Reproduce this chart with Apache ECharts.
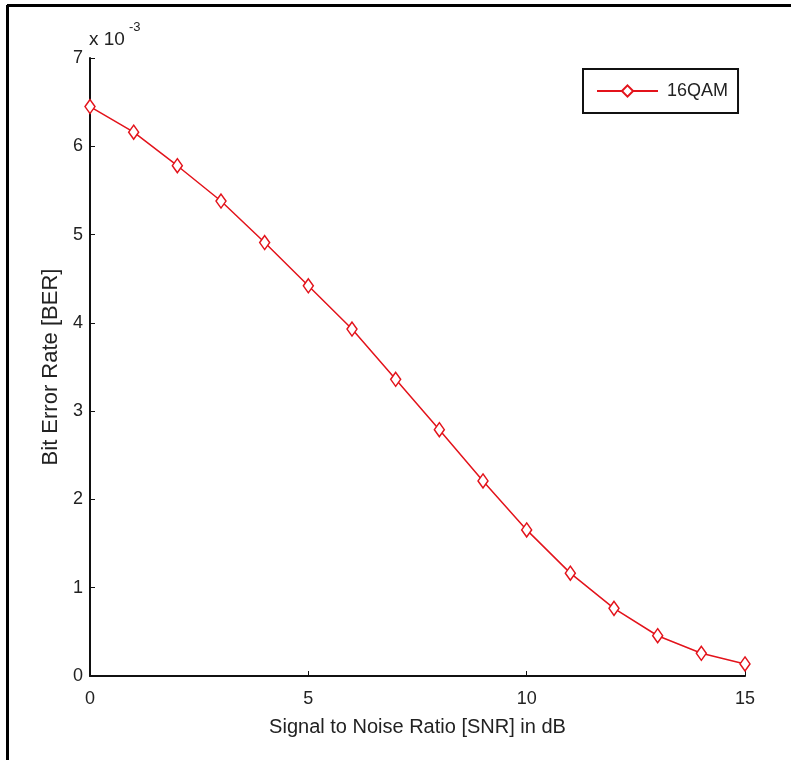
<!DOCTYPE html>
<html>
<head>
<meta charset="utf-8">
<script src="https://cdn.jsdelivr.net/npm/echarts@6/dist/echarts.min.js"></script>
<style>
  html, body { margin: 0; padding: 0; background: #fff; }
  #chart { width: 791px; height: 760px; }
</style>
</head>
<body>
<div id="chart"></div>
<script>
// SNR sweep in dB
const snrDb = [0, 1, 2, 3, 4, 5, 6, 7, 8, 9, 10, 11, 12, 13, 14, 15];
// 16QAM bit error rate, in units of 1e-3
const ber16qam = [6.45, 6.16, 5.78, 5.38, 4.91, 4.42, 3.93, 3.36, 2.79, 2.21, 1.655, 1.165, 0.766, 0.456, 0.257, 0.136];
const seriesName = '16QAM';
const xTitle = 'Signal to Noise Ratio [SNR] in dB';
const yTitle = 'Bit Error Rate [BER]';

const red = '#e3131b';
const ink = '#222';
const font = 'Liberation Sans, Arial, sans-serif';

const chart = echarts.init(document.getElementById('chart'), null, { renderer: 'canvas' });

chart.setOption({
  animation: false,
  backgroundColor: '#fff',
  textStyle: { fontFamily: font },
  grid: { left: 90, right: 46, top: 58, bottom: 84, containLabel: false },
  legend: {
    left: 583,
    top: 69,
    orient: 'horizontal',
    data: [seriesName],
    itemWidth: 61,
    itemHeight: 14,
    padding: [13, 10, 13, 13],
    borderColor: '#111',
    borderWidth: 2,
    backgroundColor: '#fff',
    textStyle: { fontFamily: font, fontSize: 18, color: ink, lineHeight: 17, padding: [0, 0, 0, 4] }
  },
  xAxis: {
    type: 'value',
    min: 0,
    max: 15,
    interval: 5,
    name: xTitle,
    nameLocation: 'middle',
    nameGap: 41,
    nameTextStyle: { fontFamily: font, fontSize: 20, color: ink },
    axisLine: { show: true, lineStyle: { color: '#111', width: 2 } },
    axisTick: { show: true, inside: true, length: 5, lineStyle: { color: '#111', width: 1 } },
    axisLabel: { fontFamily: font, fontSize: 18, color: ink, margin: 14 },
    splitLine: { show: false }
  },
  yAxis: {
    type: 'value',
    min: 0,
    max: 7,
    interval: 1,
    name: yTitle,
    nameLocation: 'middle',
    nameGap: 23,
    nameRotate: 90,
    nameTextStyle: { fontFamily: font, fontSize: 22, color: ink },
    axisLine: { show: true, lineStyle: { color: '#111', width: 2 } },
    axisTick: { show: true, inside: true, length: 5, lineStyle: { color: '#111', width: 1 } },
    axisLabel: { fontFamily: font, fontSize: 18, color: ink, margin: 7 },
    splitLine: { show: false }
  },
  graphic: [
    // page frame: left and top rules
    { type: 'line', shape: { x1: 7.5, y1: 5, x2: 7.5, y2: 760 }, style: { stroke: '#000', lineWidth: 3 } },
    { type: 'line', shape: { x1: 7, y1: 5.5, x2: 791, y2: 5.5 }, style: { stroke: '#000', lineWidth: 3 } },
    // y-axis exponent
    { type: 'text', left: 89, top: 30, style: { text: 'x 10', font: '19px ' + font, fill: ink } },
    { type: 'text', left: 129, top: 21, style: { text: '-3', font: '13px ' + font, fill: ink } }
  ],
  series: [{
    name: seriesName,
    type: 'line',
    data: snrDb.map((x, i) => [x, ber16qam[i]]),
    symbol: 'diamond',
    symbolSize: [10, 14],
    showAllSymbol: true,
    lineStyle: { color: red, width: 1.5 },
    itemStyle: { color: '#fff', borderColor: red, borderWidth: 1.5 },
    emphasis: { disabled: true },
    z: 3
  }]
});
</script>
</body>
</html>
